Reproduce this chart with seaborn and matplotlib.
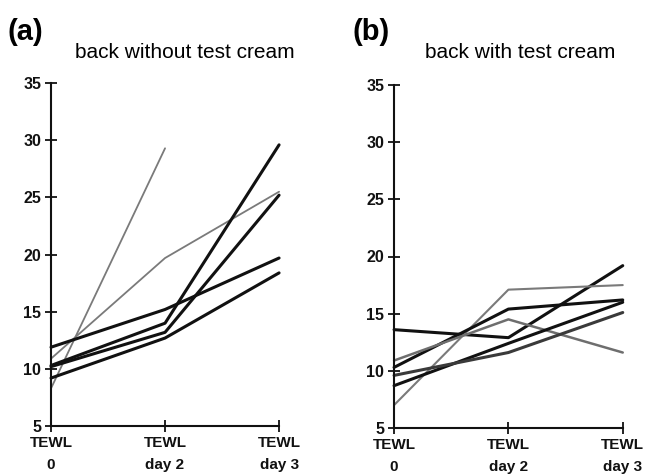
import matplotlib
matplotlib.use("Agg")
import matplotlib.pyplot as plt
import seaborn as sns
import numpy as np
import pandas as pd

sns.set_style("ticks")
plt.rcParams['font.family'] = ['Liberation Sans', 'DejaVu Sans']
plt.rcParams['text.color'] = 'black'
plt.rcParams['xtick.color'] = 'black'
plt.rcParams['ytick.color'] = 'black'
plt.rcParams['axes.labelcolor'] = 'black'

time_labels = ["TEWL\n0", "TEWL\nday 2", "TEWL\nday 3"]
time_pos = [0, 1, 2]

# Panel (a): back without test cream
a_values = [
    [8.3, 29.3, np.nan],
    [10.9, 19.7, 25.5],
    [10.3, 14.0, 29.6],
    [10.2, 13.2, 25.2],
    [11.9, 15.2, 19.7],
    [9.2, 12.7, 18.4],
]
a_colors = ["#7a7a7a", "#7a7a7a", "#111111", "#111111", "#111111", "#111111"]
a_widths = [1.3, 1.3, 2.2, 2.2, 2.2, 2.2]

# Panel (b): back with test cream
b_values = [
    [13.6, 12.9, 19.2],
    [7.0, 17.1, 17.5],
    [10.3, 15.4, 16.2],
    [10.9, 14.5, 11.6],
    [8.7, 12.4, 16.0],
    [9.6, 11.6, 15.1],
]
b_colors = ["#111111", "#7a7a7a", "#111111", "#6e6e6e", "#111111", "#3a3a3a"]
b_widths = [2.2, 1.5, 2.2, 1.8, 2.2, 2.2]

fig = plt.figure(figsize=(6.46, 4.75), dpi=100)
ax_a = fig.add_axes([0.079, 0.103, 0.353, 0.722])
ax_b = fig.add_axes([0.610, 0.099, 0.354, 0.722])


def draw(ax, values, colors, widths):
    for i, (vals, c, w) in enumerate(zip(values, colors, widths)):
        df = pd.DataFrame({"time": time_pos, "value": vals}).dropna()
        sns.lineplot(data=df, x="time", y="value", color=c, linewidth=w,
                     ax=ax, legend=False, clip_on=False)
    ax.set_xlim(0, 2)
    ax.set_ylim(5, 35)
    ax.set_yticks([5, 10, 15, 20, 25, 30, 35])
    ax.set_xticks(time_pos)
    ax.set_xticklabels(time_labels, fontweight="bold", fontsize=11,
                       linespacing=1.75, color="black")
    for lbl in ax.get_yticklabels():
        lbl.set_fontweight("bold")
        lbl.set_fontsize(11.5)
        lbl.set_color("black")
    ax.set_xlabel("")
    ax.set_ylabel("")
    for s in ["top", "right"]:
        ax.spines[s].set_visible(False)
    for s in ["left", "bottom"]:
        ax.spines[s].set_linewidth(1.5)
        ax.spines[s].set_color("#111111")
    ax.tick_params(direction="inout", length=8, width=1.3, colors="#111111",
                   pad=3)


draw(ax_a, a_values, a_colors, a_widths)
draw(ax_b, b_values, b_colors, b_widths)

fig.text(0.012, 0.916, "(a)", fontsize=21, fontweight="bold", va="baseline",
         color="black")
fig.text(0.116, 0.878, "back without test cream", fontsize=15, ha="left",
         va="baseline", color="black")
fig.text(0.546, 0.916, "(b)", fontsize=21, fontweight="bold", va="baseline",
         color="black")
fig.text(0.658, 0.878, "back with test cream", fontsize=15, ha="left",
         va="baseline", color="black")

fig.savefig("out.png", dpi=100)
